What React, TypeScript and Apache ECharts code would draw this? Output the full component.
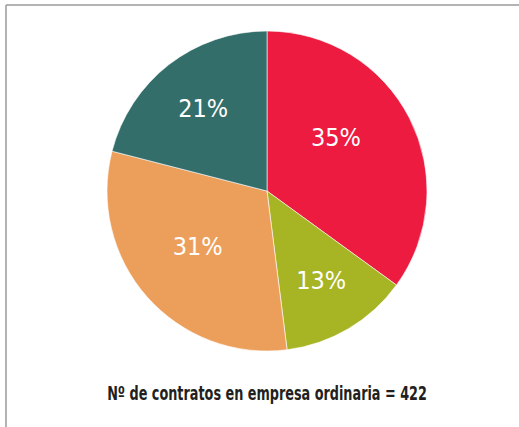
import React, { useEffect, useRef } from "react";
import * as echarts from "echarts";

const categories = ["A", "B", "C", "D"];
const values = [35, 13, 31, 21];
const colors = ["#EC1B3F", "#A7B423", "#EC9F5B", "#346E6A"];
const labelOffsets = [
  [-5, -16],
  [12, 18],
  [-7, 1],
  [-13, -17],
];
const caption = "Nº de contratos en empresa ordinaria = 422";

export default function App() {
  const ref = useRef<HTMLDivElement>(null);
  useEffect(() => {
    if (!ref.current) return;
    const chart = echarts.init(ref.current, undefined, { renderer: "svg" });
    chart.setOption({
      animation: false,
      backgroundColor: "#ffffff",
      graphic: [
        {
          type: "line",
          shape: { x1: 6, y1: 5, x2: 519, y2: 5 },
          style: { stroke: "#9a9a9a", lineWidth: 1.5 },
        },
        {
          type: "line",
          shape: { x1: 6, y1: 5, x2: 6, y2: 427 },
          style: { stroke: "#9a9a9a", lineWidth: 1.5 },
        },
        {
          type: "text",
          x: 267,
          y: 393,
          scaleX: 0.75,
          style: {
            text: caption,
            fill: "#231f20",
            font: 'bold 19px "DejaVu Sans Condensed", sans-serif',
            textAlign: "center",
            textVerticalAlign: "middle",
          },
        },
      ],
      series: [
        {
          type: "pie",
          center: [267, 191],
          radius: 160,
          startAngle: 90,
          clockwise: true,
          avoidLabelOverlap: false,
          itemStyle: { borderColor: "#ffffff", borderWidth: 0.6 },
          label: {
            show: true,
            position: "inside",
            formatter: "{c}%",
            color: "#ffffff",
            fontSize: 25,
            fontFamily: '"DejaVu Sans Condensed", sans-serif',
            fontWeight: "normal",
          },
          labelLine: { show: false },
          labelLayout: (p: any) => ({
            dx: labelOffsets[p.dataIndex][0],
            dy: labelOffsets[p.dataIndex][1],
          }),
          data: categories.map((name, i) => ({
            name,
            value: values[i],
            itemStyle: { color: colors[i] },
          })),
        },
      ],
    });
    return () => chart.dispose();
  }, []);
  return (
    <div
      ref={ref}
      style={{ position: "fixed", left: 0, top: 0, width: 519, height: 427 }}
    />
  );
}
